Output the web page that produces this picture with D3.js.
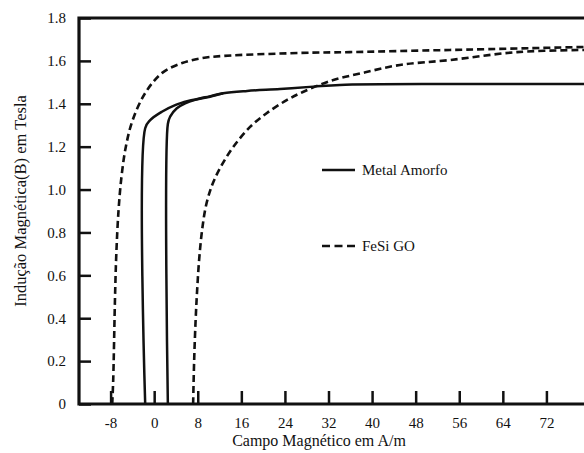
<!DOCTYPE html>
<html>
<head>
<meta charset="utf-8">
<script src="https://cdn.jsdelivr.net/npm/d3@7"></script>
<style>
    body { margin: 0; background: #fff; }
    svg text { fill: #111; }
</style>
</head>
<body>
<div id="chart"></div>
<script>
// H (A/m), B (T) pairs
const amorfoDown = [[-1.65, 0], [-1.65, 1.286], [-0.73, 1.324], [1.41, 1.363], [3.85, 1.394],
    [6.24, 1.413], [9.35, 1.430], [12.66, 1.449], [17.06, 1.460], [23.1, 1.469],
    [29.2, 1.480], [34.1, 1.488], [54.3, 1.492], [78.9, 1.492]];
const amorfoUp = [[2.51, 0], [2.51, 1.306], [2.93, 1.340], [4.16, 1.379], [5.69, 1.402],
    [7.52, 1.418], [10.27, 1.433], [12.66, 1.449]];
const fesiDown = [[-7.7, 0], [-7.52, 0.112], [-7.2, 0.485], [-6.95, 0.70], [-6.55, 0.90],
    [-6.0, 1.06], [-5.2, 1.20], [-4.0, 1.32], [-1.65, 1.450], [1.47, 1.544],
    [5.14, 1.590], [8.8, 1.613], [12.65, 1.623], [26.8, 1.637], [35.9, 1.641],
    [54.3, 1.651], [78.9, 1.665]];
const fesiUp = [[7.15, 0], [7.34, 0.205], [7.61, 0.392], [7.89, 0.532], [8.25, 0.672],
    [8.80, 0.812], [9.54, 0.928], [10.64, 1.021], [12.1, 1.100], [14.5, 1.198],
    [17.6, 1.292], [20.7, 1.357], [24.4, 1.418], [27.3, 1.455], [32.3, 1.506],
    [38.3, 1.544], [45.1, 1.581], [54.3, 1.604], [66.6, 1.641], [78.9, 1.651]];

const xTicks = [-8, 0, 8, 16, 24, 32, 40, 48, 56, 64, 72];
const yTicks = [0, 0.2, 0.4, 0.6, 0.8, 1.0, 1.2, 1.4, 1.6, 1.8];
const legendNames = ["Metal Amorfo", "FeSi GO"];

const W = 584, H = 453;
const margin = { top: 18, right: 0, bottom: 49, left: 79 };
const serif = "Liberation Serif";

const svg = d3.select("#chart").append("svg")
    .attr("width", W)
    .attr("height", H)
    .attr("font-family", serif);

const x = d3.scaleLinear()
    .domain([-13.8, 78.9])
    .range([margin.left, W - margin.right]);

const y = d3.scaleLinear()
    .domain([0, 1.8])
    .range([H - margin.bottom, margin.top]);

// x axis, ticks pointing inward
const xAxis = svg.append("g")
    .attr("transform", `translate(0, ${y(0)})`)
    .call(d3.axisBottom(x).tickValues(xTicks).tickSize(-13).tickPadding(8)
        .tickFormat(d => d));
xAxis.attr("font-family", serif);
xAxis.select(".domain").remove();
xAxis.selectAll(".tick line").attr("stroke", "#111").attr("stroke-width", 2.5);
xAxis.selectAll(".tick text")
    .attr("y", 13)
    .attr("dy", "0.71em")
    .attr("font-size", 15);

// y axis
const yAxis = svg.append("g")
    .attr("transform", `translate(${x.range()[0]}, 0)`)
    .call(d3.axisLeft(y).tickValues(yTicks).tickSize(-12).tickPadding(13)
        .tickFormat(d => d === 0 ? "0" : d3.format(".1f")(d)));
yAxis.attr("font-family", serif);
yAxis.select(".domain").remove();
yAxis.selectAll(".tick line").attr("stroke", "#111").attr("stroke-width", 2.5);
yAxis.selectAll(".tick text")
    .attr("font-size", 15);

// frame: left, top, bottom
svg.append("path")
    .attr("d", `M${W},${y(1.8)} H${x.range()[0]} V${y(0)} H${W}`)
    .attr("fill", "none")
    .attr("stroke", "#111")
    .attr("stroke-width", 3.2);

const line = d3.line()
    .x(d => x(d[0]))
    .y(d => y(d[1]))
    .curve(d3.curveCatmullRom.alpha(0.5));

[amorfoDown, amorfoUp].forEach(s => {
    svg.append("path")
        .attr("d", line(s))
        .attr("fill", "none")
        .attr("stroke", "#111")
        .attr("stroke-width", 2.5);
});

[fesiDown, fesiUp].forEach(s => {
    svg.append("path")
        .attr("d", line(s))
        .attr("fill", "none")
        .attr("stroke", "#111")
        .attr("stroke-width", 2.6)
        .attr("stroke-dasharray", "7,4");
});

// legend
const legend = svg.append("g").attr("transform", "translate(322, 170)");
legendNames.forEach((name, i) => {
    const g = legend.append("g").attr("transform", `translate(0, ${i * 76})`);
    g.append("line")
        .attr("x1", 0).attr("x2", 33)
        .attr("stroke", "#111")
        .attr("stroke-width", 2.5)
        .attr("stroke-dasharray", i === 0 ? null : "8,4.5");
    g.append("text")
        .attr("x", 40)
        .attr("dy", "0.35em")
        .attr("font-size", 15)
        .text(name);
});

// axis titles
svg.append("text")
    .attr("x", 319)
    .attr("y", 446)
    .attr("text-anchor", "middle")
    .attr("font-size", 16)
    .text("Campo Magnético em A/m");

svg.append("text")
    .attr("transform", "translate(26, 201) rotate(-90)")
    .attr("text-anchor", "middle")
    .attr("font-size", 16.5)
    .text("Indução Magnética(B) em Tesla");
</script>
</body>
</html>
